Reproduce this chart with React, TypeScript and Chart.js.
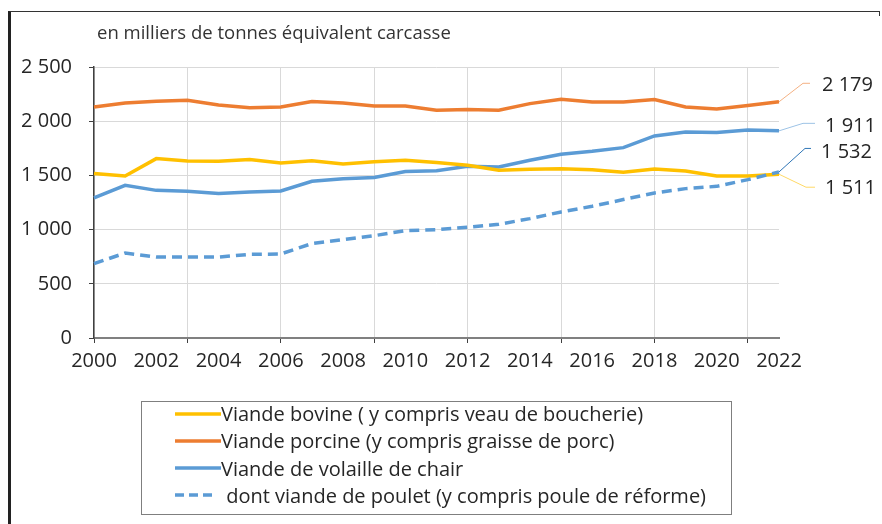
import React, { useEffect, useRef } from "react";
import { Chart, registerables } from "chart.js";

Chart.register(...registerables);

const years = ["2000","2001","2002","2003","2004","2005","2006","2007","2008","2009","2010","2011","2012","2013","2014","2015","2016","2017","2018","2019","2020","2021","2022"];

const bovine = [1517,1495,1655,1633,1630,1646,1614,1636,1605,1627,1639,1618,1593,1547,1556,1562,1553,1528,1559,1541,1495,1495,1511];
const porcine = [2131,2168,2184,2193,2150,2125,2131,2181,2168,2140,2140,2101,2107,2101,2162,2202,2177,2177,2199,2131,2113,2144,2179];
const volaille = [1292,1409,1362,1353,1332,1347,1356,1446,1470,1480,1535,1544,1584,1577,1639,1695,1722,1756,1864,1901,1895,1919,1911];
const poulet = [686,784,747,747,747,772,775,871,907,944,990,1000,1021,1049,1101,1163,1215,1277,1338,1378,1399,1461,1532];

const seriesNames = [
  "Viande bovine ( y compris veau de boucherie)",
  "Viande porcine (y compris graisse de porc)",
  "Viande de volaille de chair",
  " dont viande de poulet (y compris poule de réforme)",
];
const seriesColors = ["#FFC000", "#ED7D31", "#5B9BD5", "#5B9BD5"];
const leaderColors = ["#FFD966", "#F4B183", "#9DC3E6", "#2E75B6"];
const yTicks = [0, 500, 1000, 1500, 2000, 2500];
const title = "en milliers de tonnes équivalent carcasse";

const FONT = "'Open Sans', sans-serif";
const TEXT = "#262626";

const fmt = (v: number) => String(v).replace(/\B(?=(\d{3})+(?!\d))/g, " ");

// label layout offsets (relative to the last point of each series)
const leaderOffsets = [
  { ex: 27, ey: 13, hx: 36, tx: 46, ty: 14 },
  { ex: 24, ey: -18.5, hx: 31, tx: 43, ty: -16.5 },
  { ex: 24, ey: -7.5, hx: 36, tx: 46, ty: -4.5 },
  { ex: 26, ey: -23.5, hx: 32, tx: 42, ty: -20 },
];

const endLabels = {
  id: "endLabels",
  afterDatasetsDraw(chart: any) {
    const ctx = chart.ctx;
    ctx.save();
    chart.data.datasets.forEach((ds: any, i: number) => {
      const meta = chart.getDatasetMeta(i);
      const last = meta.data[meta.data.length - 1];
      if (!last) return;
      const o = leaderOffsets[i];
      const x = last.x, y = last.y;
      ctx.beginPath();
      ctx.strokeStyle = leaderColors[i];
      ctx.lineWidth = 1;
      ctx.setLineDash([]);
      ctx.moveTo(x, y);
      ctx.lineTo(x + o.ex, y + o.ey);
      ctx.lineTo(x + o.hx, y + o.ey);
      ctx.stroke();
      ctx.fillStyle = TEXT;
      ctx.font = `20px ${FONT}`;
      ctx.textAlign = "left";
      ctx.textBaseline = "middle";
      ctx.fillText(fmt(ds.data[ds.data.length - 1]), x + o.tx, y + o.ty);
    });
    ctx.restore();
  },
};

export default function App() {
  const ref = useRef<HTMLCanvasElement>(null);

  useEffect(() => {
    document.body.style.margin = "0";
    const datas = [bovine, porcine, volaille, poulet];
    const chart = new Chart(ref.current!, {
      type: "line",
      data: {
        labels: years,
        datasets: datas.map((d, i) => ({
          label: seriesNames[i],
          data: d,
          borderColor: seriesColors[i],
          backgroundColor: seriesColors[i],
          borderWidth: 3.5,
          borderDash: i === 3 ? [10, 6] : [],
          pointRadius: 0,
          tension: 0,
          fill: false,
          order: i === 3 ? 0 : i + 1,
        })),
      },
      options: {
        responsive: false,
        animation: false,
        devicePixelRatio: 1,
        layout: { padding: { left: 0, right: 103, top: 67, bottom: 136 } },
        plugins: { legend: { display: false }, tooltip: { enabled: false }, title: { display: false } },
        scales: {
          x: {
            type: "category",
            offset: false,
            afterFit: (s: any) => { s.height = 50; },
            grid: {
              color: (c: any) => (c.index % 3 === 0 ? "#D9D9D9" : "rgba(0,0,0,0)"),
              tickColor: (c: any) => (c.index % 3 === 0 ? "#404040" : "rgba(0,0,0,0)"),
              tickLength: 5,
              lineWidth: 1,
            },
            border: { color: "#808080", width: 2 },
            ticks: {
              autoSkip: false,
              maxRotation: 0,
              minRotation: 0,
              padding: 6,
              color: TEXT,
              font: { family: FONT, size: 20 },
              callback: (_v: any, i: number) => (i % 2 === 0 ? years[i] : ""),
            },
          },
          y: {
            min: 0,
            max: 2500,
            afterFit: (s: any) => { s.width = 94; },
            afterBuildTicks: (s: any) => { s.ticks = yTicks.map((v) => ({ value: v })); },
            grid: { color: "#D9D9D9", tickColor: "#404040", tickLength: 5, lineWidth: 1 },
            border: { color: "#404040", width: 1.5 },
            ticks: {
              padding: 17,
              color: TEXT,
              font: { family: FONT, size: 20 },
              callback: (v: any) => fmt(Number(v)),
            },
          },
        },
      },
      plugins: [endLabels],
    });
    return () => chart.destroy();
  }, []);

  const rowTop = (i: number) => 413.5 + i * 27.3 - 13;

  return (
    <div style={{ position: "relative", width: 882, height: 524, background: "#fff", overflow: "hidden", fontFamily: FONT }}>
      <div style={{ position: "absolute", left: 8, top: 11, width: 872, height: 520, borderLeft: "3px solid #222", borderTop: "1.5px solid #333", boxSizing: "border-box" }} />
      <div style={{ position: "absolute", left: 878.5, top: 11, width: 1.5, height: 5, background: "#333" }} />
      <canvas ref={ref} width={882} height={524} style={{ position: "absolute", left: 0, top: 0 }} />
      <div style={{ position: "absolute", left: 97, top: 20, fontSize: 18.5, lineHeight: "24px", color: "#333", whiteSpace: "nowrap" }}>{title}</div>
      <div style={{ position: "absolute", left: 141, top: 401, width: 591, height: 114, border: "1px solid #7F7F7F", boxSizing: "border-box" }} />
      {seriesNames.map((n, i) => (
        <div key={i} style={{ position: "absolute", left: 175, top: rowTop(i), height: 26, display: "flex", alignItems: "center", whiteSpace: "pre", fontSize: 20, color: TEXT }}>
          <svg width={46} height={6} style={{ display: "block" }}>
            <line x1={0} y1={3} x2={i === 3 ? 40 : 46} y2={3} stroke={seriesColors[i]} strokeWidth={3.5} strokeDasharray={i === 3 ? "9 5" : undefined} />
          </svg>
          <span>{n}</span>
        </div>
      ))}
    </div>
  );
}
